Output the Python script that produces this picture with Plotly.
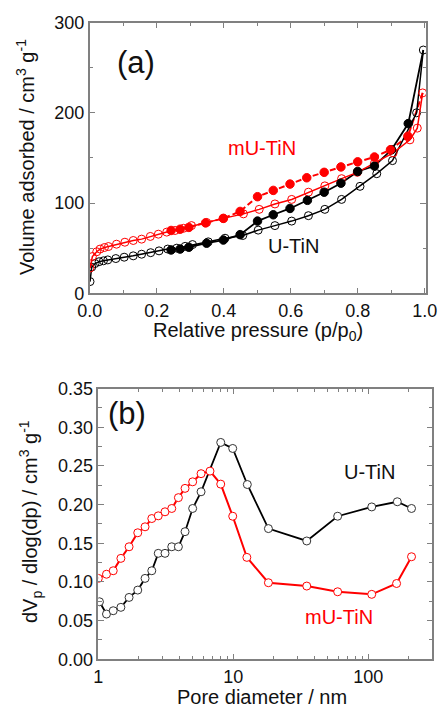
import plotly.graph_objects as go

# ---------------- Panel (a): N2 isotherms ----------------
ads_U_x = [0.001, 0.006, 0.016, 0.028, 0.041, 0.054, 0.078, 0.103, 0.13, 0.155, 0.182, 0.207,
           0.233, 0.26, 0.285, 0.307, 0.354, 0.404, 0.457, 0.503, 0.553, 0.603, 0.653, 0.702,
           0.752, 0.807, 0.857, 0.904, 0.976, 0.996]
ads_U_y = [13, 29, 33, 35, 36, 37, 38.5, 40, 41.5, 43.3, 45, 47,
           49, 50, 52, 54, 57, 61, 64, 70, 75, 80, 86, 93,
           104, 118.5, 132.5, 147, 200, 269.5]
des_U_x = [0.243, 0.27, 0.296, 0.349, 0.399, 0.449, 0.501, 0.548, 0.598, 0.65, 0.70, 0.75,
           0.80, 0.85, 0.901, 0.951]
des_U_y = [48, 49, 51, 55.5, 59, 65, 80, 87, 94, 103, 112, 122,
           135, 141, 159, 188]

ads_mU_x = [0.001, 0.008, 0.021, 0.031, 0.044, 0.056, 0.08, 0.105, 0.13, 0.155, 0.181, 0.205,
            0.23, 0.255, 0.28, 0.304, 0.349, 0.399, 0.459, 0.506, 0.553, 0.603, 0.653, 0.702,
            0.752, 0.799, 0.85, 0.906, 0.956, 0.978, 0.994]
ads_mU_y = [28, 40.7, 46, 49, 50.7, 51.8, 54.4, 56.6, 58.5, 60, 63, 65.5,
            67.8, 69.6, 72, 75, 78.5, 83, 88, 93, 99, 104, 112, 119,
            127, 134, 144, 155.6, 170, 183, 222]
des_mU_x = [0.243, 0.27, 0.296, 0.346, 0.399, 0.449, 0.501, 0.548, 0.598, 0.648, 0.70, 0.75,
            0.80, 0.85, 0.898, 0.95]
des_mU_y = [69.6, 71, 73, 78, 83, 90.7, 107, 114, 121, 128, 134, 140,
            145.6, 151, 159, 174]

# ---------------- Panel (b): pore size distributions ----------------
dp_U = [1.02, 1.15, 1.29, 1.47, 1.69, 1.96, 2.22, 2.49, 2.78, 3.12, 3.50, 3.92,
        4.39, 5.0, 5.77, 8.07, 9.9, 12.7, 18.2, 35, 59.3, 106, 164, 209]
dv_U = [0.0744, 0.0585, 0.0628, 0.0672, 0.080, 0.0895, 0.1046, 0.1145, 0.137, 0.137, 0.1455, 0.1455,
        0.165, 0.195, 0.2166, 0.2804, 0.2726, 0.226, 0.169, 0.153, 0.185, 0.197, 0.2037, 0.195]
dp_mU = [1.0, 1.15, 1.29, 1.47, 1.69, 1.96, 2.22, 2.49, 2.78, 3.12, 3.50, 3.92,
         4.39, 5.0, 5.77, 6.72, 8.07, 9.9, 12.6, 18.2, 35, 59.3, 106, 162, 209]
dv_mU = [0.1046, 0.110, 0.1145, 0.1305, 0.1455, 0.1636, 0.1713, 0.182, 0.1855, 0.1907, 0.195, 0.209,
         0.221, 0.2295, 0.240, 0.2433, 0.2265, 0.185, 0.1318, 0.099, 0.0947, 0.0873, 0.084, 0.098, 0.1326]

a_xticks = [0.0, 0.2, 0.4, 0.6, 0.8, 1.0]
a_yticks = [0, 100, 200, 300]
b_xticks = [1, 10, 100]
b_xticklabels = ["1", "10", "100"]
b_xminor = [2, 3, 4, 5, 6, 7, 8, 9, 20, 30, 40, 50, 60, 70, 80, 90, 200]

BLACK = "#000000"
RED = "#ff0000"
FONT = "Liberation Sans, Arial, sans-serif"
W, H = 441, 709

fig = go.Figure()

# desorption lines (start from top adsorption point)
fig.add_trace(go.Scatter(x=[ads_U_x[-1]] + des_U_x[::-1], y=[ads_U_y[-1]] + des_U_y[::-1],
                         mode="lines", line=dict(color=BLACK, width=1.8),
                         xaxis="x", yaxis="y", hoverinfo="skip"))
fig.add_trace(go.Scatter(x=[ads_mU_x[-1]] + des_mU_x[::-1], y=[ads_mU_y[-1]] + des_mU_y[::-1],
                         mode="lines", line=dict(color=RED, width=2, dash="6px,3px"),
                         xaxis="x", yaxis="y", hoverinfo="skip"))
# adsorption (open)
fig.add_trace(go.Scatter(x=ads_U_x, y=ads_U_y, mode="lines+markers",
                         line=dict(color=BLACK, width=1.5),
                         marker=dict(symbol="circle", size=8, color="rgba(255,255,255,0)",
                                     line=dict(color=BLACK, width=1)),
                         xaxis="x", yaxis="y"))
fig.add_trace(go.Scatter(x=ads_mU_x, y=ads_mU_y, mode="lines+markers",
                         line=dict(color=RED, width=1.5),
                         marker=dict(symbol="circle", size=8, color="rgba(255,255,255,0)",
                                     line=dict(color=RED, width=1)),
                         xaxis="x", yaxis="y"))
# desorption markers (filled)
fig.add_trace(go.Scatter(x=des_U_x, y=des_U_y, mode="markers",
                         marker=dict(symbol="circle", size=8.5, color=BLACK,
                                     line=dict(color=BLACK, width=1)),
                         xaxis="x", yaxis="y"))
fig.add_trace(go.Scatter(x=des_mU_x, y=des_mU_y, mode="markers",
                         marker=dict(symbol="circle", size=8.5, color=RED,
                                     line=dict(color=RED, width=1)),
                         xaxis="x", yaxis="y"))

# panel b
fig.add_trace(go.Scatter(x=dp_U, y=dv_U, mode="lines+markers",
                         line=dict(color=BLACK, width=1.8),
                         marker=dict(symbol="circle", size=8, color="white",
                                     line=dict(color="#333333", width=1)),
                         xaxis="x2", yaxis="y2"))
fig.add_trace(go.Scatter(x=dp_mU, y=dv_mU, mode="lines+markers",
                         line=dict(color=RED, width=2),
                         marker=dict(symbol="circle", size=8, color="white",
                                     line=dict(color=RED, width=1)),
                         xaxis="x2", yaxis="y2"))

axis_common = dict(showline=True, linecolor="#808080", linewidth=1.5, mirror="ticks",
                   ticks="inside", ticklen=6, tickwidth=1.2, tickcolor="#808080",
                   showgrid=False, zeroline=False, automargin=False,
                   tickfont=dict(family=FONT, size=18, color="#111111"))

fig.update_layout(
    width=W, height=H, margin=dict(l=0, r=0, t=0, b=0, autoexpand=False),
    paper_bgcolor="white", plot_bgcolor="white", showlegend=False,
    xaxis=dict(domain=[89.7 / W, 426 / W], range=[0, 1.004], tickvals=a_xticks,
               tickformat=".1f", anchor="y",
               minor=dict(ticks="inside", dtick=0.1, ticklen=3.5, tickcolor="#808080"),
               **axis_common),
    yaxis=dict(domain=[1 - 293.3 / H, 1 - 22.5 / H], range=[0, 300], tickvals=a_yticks,
               anchor="x",
               minor=dict(ticks="inside", dtick=50, ticklen=3.5, tickcolor="#808080"),
               **axis_common),
    xaxis2=dict(domain=[98.3 / W, 432.3 / W], type="log", range=[0, 2.474],
                tickvals=b_xticks, ticktext=b_xticklabels, anchor="y2",
                minor=dict(ticks="inside", tickvals=b_xminor, ticklen=3.5, tickcolor="#808080"),
                **axis_common),
    yaxis2=dict(domain=[1 - 659.3 / H, 1 - 388.6 / H], range=[0, 0.35], dtick=0.05,
                tickformat=".2f", anchor="x2",
                minor=dict(ticks="inside", dtick=0.025, ticklen=3.5, tickcolor="#808080"),
                **axis_common),
)

def ann(text, x, y, size, color="#111111", angle=0):
    fig.add_annotation(text=text, x=x / W, y=1 - y / H, xref="paper", yref="paper",
                       showarrow=False, textangle=angle, xanchor="center", yanchor="middle",
                       font=dict(family=FONT, size=size, color=color))

ann("(a)", 136, 63, 31)
ann("mU-TiN", 262, 148, 20, RED)
ann("U-TiN", 293, 246, 20, "#111111")
ann("(b)", 127, 413, 31)
ann("U-TiN", 369, 472, 20, "#111111")
ann("mU-TiN", 339, 617, 20, RED)

ann("Volume adsorbed / cm<sup>3</sup> g<sup>-1</sup>", 25, 157, 20, angle=-90)
ann("Relative pressure (p/p<sub>0</sub>)", 258, 332, 20)
ann("dV<sub>p</sub> / dlog(dp) / cm<sup>3</sup> g<sup>-1</sup>", 30, 522, 20, angle=-90)
ann("Pore diameter / nm", 262, 697, 20)

fig.write_html("out.html", config={"displayModeBar": False})
with open("out.html", "r", encoding="utf-8") as f:
    html = f.read()
html = html.replace("<body>", '<body style="margin:0;padding:0;">', 1)
with open("out.html", "w", encoding="utf-8") as f:
    f.write(html)
